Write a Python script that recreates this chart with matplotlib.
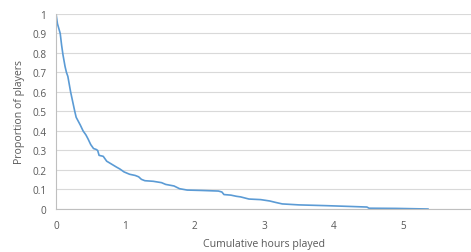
import matplotlib.pyplot as plt

# curve (cumulative hours vs proportion still playing)
hours = [0.0, 0.02, 0.06, 0.08, 0.10, 0.13, 0.15, 0.17, 0.19, 0.21, 0.24, 0.27,
         0.29, 0.32, 0.35, 0.39, 0.43, 0.46, 0.50, 0.54, 0.58, 0.60, 0.62, 0.68,
         0.73, 0.80, 0.87, 0.92, 0.98, 1.06, 1.14, 1.19, 1.23, 1.28, 1.40, 1.52,
         1.58, 1.70, 1.78, 1.89, 2.10, 2.34, 2.39, 2.42, 2.52, 2.60, 2.66, 2.78,
         2.95, 3.08, 3.16, 3.26, 3.50, 3.90, 4.24, 4.48, 4.51, 4.90, 5.36]
share = [1.0, 0.95, 0.90, 0.84, 0.79, 0.73, 0.70, 0.68, 0.64, 0.60, 0.55, 0.50,
         0.47, 0.45, 0.43, 0.40, 0.38, 0.36, 0.33, 0.31, 0.305, 0.30, 0.275, 0.27,
         0.245, 0.23, 0.215, 0.205, 0.19, 0.178, 0.172, 0.165, 0.152, 0.145, 0.142,
         0.135, 0.126, 0.118, 0.104, 0.097, 0.095, 0.092, 0.087, 0.074, 0.071,
         0.065, 0.062, 0.051, 0.048, 0.041, 0.034, 0.026, 0.021, 0.017, 0.013,
         0.010, 0.004, 0.003, 0.0]

xticks = [0, 1, 2, 3, 4, 5]
yticks = [0, 0.1, 0.2, 0.3, 0.4, 0.5, 0.6, 0.7, 0.8, 0.9, 1]
ylabels = ['0', '0.1', '0.2', '0.3', '0.4', '0.5', '0.6', '0.7', '0.8', '0.9', '1']

plt.rcParams['font.family'] = ['Open Sans', 'DejaVu Sans']
txt = '#595959'

fig = plt.figure(figsize=(4.71, 2.53), dpi=100)
ax = fig.add_axes([0.119, 0.17, 0.881, 0.771])

ax.plot(hours, share, color='#5B9BD5', lw=1.2, solid_joinstyle='round')

ax.set_xlim(0, 5.98)
ax.set_ylim(0, 1)
ax.set_xticks(xticks)
ax.set_yticks(yticks)
ax.set_yticklabels(ylabels)
ax.tick_params(length=0, labelsize=7.2, colors=txt, pad=7)
ax.tick_params(axis='x', pad=8)
ax.grid(axis='y', color='#D9D9D9', lw=0.8)
ax.set_axisbelow(True)
for s in ['top', 'right']:
    ax.spines[s].set_visible(False)
for s in ['left', 'bottom']:
    ax.spines[s].set_color('#BFBFBF')
    ax.spines[s].set_linewidth(0.8)

ax.set_xlabel('Cumulative hours played', fontsize=7.6, color=txt, labelpad=5)
ax.set_ylabel('Proportion of players', fontsize=7.6, color=txt, labelpad=5)

fig.savefig('out.png', dpi=100)
